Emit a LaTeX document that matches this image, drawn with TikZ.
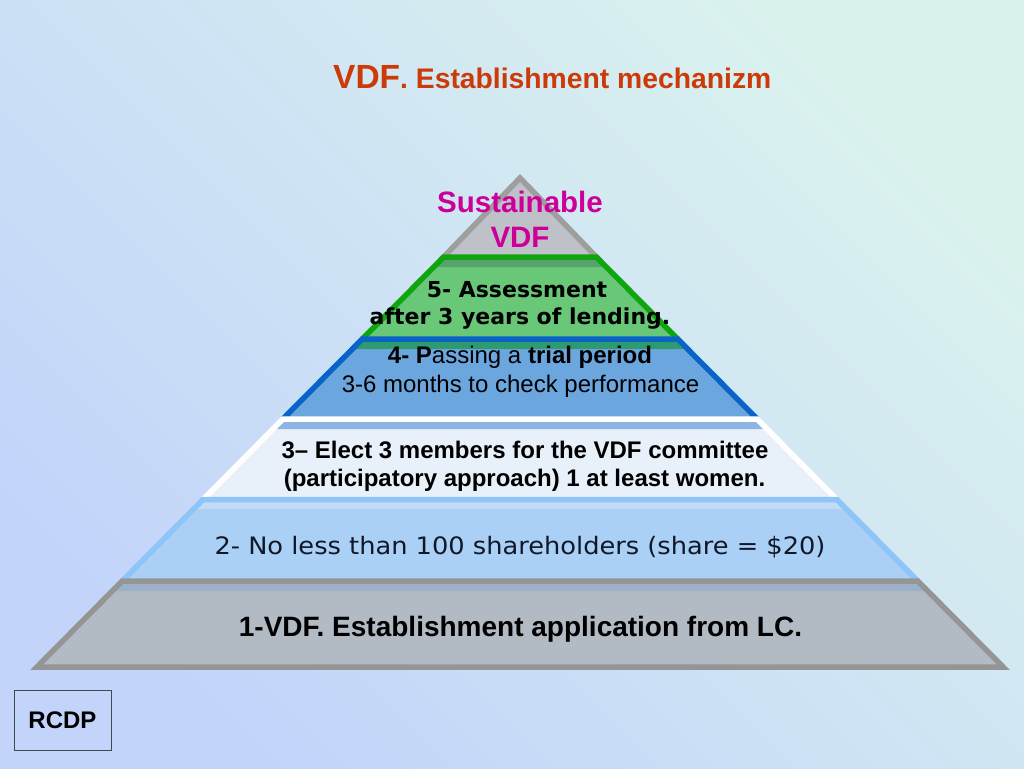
\documentclass[tikz,border=0pt]{standalone}
\usepackage{fontspec}
\newfontfamily\arialx{Liberation Sans}
\newfontfamily\verdx{DejaVu Sans}
\newfontfamily\verdw[FakeStretch=1.07]{DejaVu Sans}
\definecolor{bgBL}{RGB}{194,212,250}
\definecolor{bgTR}{RGB}{218,242,238}
\definecolor{titlec}{RGB}{204,58,10}
\definecolor{magc}{RGB}{204,0,153}
\definecolor{apexfill}{RGB}{190,194,200}
\definecolor{apexline}{RGB}{158,158,158}
\definecolor{grfill}{RGB}{104,200,120}
\definecolor{grline}{RGB}{16,164,16}
\definecolor{grstrip}{RGB}{88,162,108}
\definecolor{blfill}{RGB}{108,166,222}
\definecolor{blline}{RGB}{10,100,200}
\definecolor{blstrip}{RGB}{46,154,112}
\definecolor{whfill}{RGB}{232,240,250}
\definecolor{whstrip}{RGB}{140,180,228}
\definecolor{lbfill}{RGB}{170,208,246}
\definecolor{lbline}{RGB}{142,196,248}
\definecolor{lbstrip}{RGB}{194,220,246}
\definecolor{gyfill}{RGB}{178,186,196}
\definecolor{gyline}{RGB}{149,149,149}
\definecolor{gystrip}{RGB}{156,176,200}
\definecolor{navyc}{RGB}{16,24,40}
\begin{document}
\begin{tikzpicture}[x=1pt,y=-1pt,
  edge/.style={line width=5.5pt},
  txt/.style={inner sep=0pt, anchor=base},
  arialtxt/.style={txt, font=\arialx},
  verdtxt/.style={txt, font=\verdx}]
\useasboundingbox (0,0) rectangle (1024,768);
\shade[bottom color=bgBL, top color=bgTR, shading angle=-45] (0,0) rectangle (1024,768);

% apex triangle
\fill[apexfill] (520,178) -- (596.4,257) -- (443.6,257) -- cycle;
\draw[edge, apexline] (443.6,257) -- (520,178) -- (596.4,257);

% layer 5 (green)
\fill[grfill] (443.6,257) -- (596.4,257) -- (677.7,339) -- (362.3,339) -- cycle;
\fill[grstrip] (443.6,257) -- (596.4,257) -- (606.3,267) -- (433.7,267) -- cycle;
\draw[edge, grline] (362.3,339) -- (443.6,257) -- (596.4,257) -- (677.7,339);

% layer 4 (blue)
\fill[blfill] (362.3,339) -- (677.7,339) -- (757.1,419) -- (282.9,419) -- cycle;
\fill[blstrip] (362.3,339) -- (677.7,339) -- (687.6,349) -- (352.4,349) -- cycle;
\draw[edge, blline] (282.9,419) -- (362.3,339) -- (677.7,339) -- (757.1,419);

% layer 3 (white)
\fill[whfill] (282.9,419) -- (757.1,419) -- (836.9,499.5) -- (203.1,499.5) -- cycle;
\fill[whstrip] (282.9,419) -- (757.1,419) -- (767,429) -- (273,429) -- cycle;
\draw[edge, white] (203.1,499.5) -- (282.9,419) -- (757.1,419) -- (836.9,499.5);

% layer 2 (light blue)
\fill[lbfill] (203.1,499.5) -- (836.9,499.5) -- (917.8,581) -- (122.2,581) -- cycle;
\fill[lbstrip] (203.1,499.5) -- (836.9,499.5) -- (846.4,509) -- (193.6,509) -- cycle;
\draw[edge, lbline] (122.2,581) -- (203.1,499.5) -- (836.9,499.5) -- (917.8,581);

% layer 1 (gray)
\fill[gyfill] (122.2,581) -- (917.8,581) -- (1003.1,667) -- (36.9,667) -- cycle;
\fill[gystrip] (122.2,581) -- (917.8,581) -- (927.7,591) -- (112.3,591) -- cycle;
\draw[edge, gyline] (122.2,581) -- (917.8,581) -- (1003.1,667) -- (36.9,667) -- cycle;

% title
\node[arialtxt, anchor=base west, text=titlec, font=\arialx\bfseries] (title) at (333,88)
  {\fontsize{33.5}{38}\selectfont VDF\fontsize{28.3}{32}\selectfont. Establishment mechanizm};

% apex text
\node[arialtxt, text=magc, font=\arialx\bfseries\fontsize{29.5}{34}\selectfont] (sus1) at (520,212) {Sustainable};
\node[arialtxt, text=magc, font=\arialx\bfseries\fontsize{29.5}{34}\selectfont] (sus2) at (520,247) {VDF};

% layer 5 text
\node[verdtxt, font=\verdx\bfseries\fontsize{22}{26}\selectfont] (l5a) at (517,297) {5- Assessment};
\node[verdtxt, font=\verdx\bfseries\fontsize{22}{26}\selectfont] (l5b) at (520,324) {after 3 years of lending.};

% layer 4 text
\node[arialtxt, font=\arialx\fontsize{24}{28}\selectfont] (l4a) at (520,363) {\textbf{4- P}assing a \textbf{trial period}};
\node[arialtxt, font=\arialx\fontsize{24}{28}\selectfont] (l4b) at (520.5,392) {3-6 months to check performance};

% layer 3 text
\node[arialtxt, font=\arialx\bfseries\fontsize{24}{28}\selectfont] (l3a) at (525,458) {3– Elect 3 members for the VDF committee};
\node[arialtxt, font=\arialx\bfseries\fontsize{24}{28}\selectfont] (l3b) at (524.5,486) {(participatory approach) 1 at least women.};

% layer 2 text
\node[txt, text=navyc, font=\verdw\fontsize{24}{28}\selectfont] (l2) at (520,554) {2- No less than 100 shareholders (share = \$20)};

% layer 1 text
\node[arialtxt, font=\arialx\bfseries\fontsize{28}{32}\selectfont] (l1) at (520.5,636) {1-VDF. Establishment application from LC.};

% RCDP box
\node[draw=navyc!80, line width=1pt, minimum width=97pt, minimum height=60pt, inner sep=0pt,
      font=\arialx\bfseries\fontsize{24}{28}\selectfont] (rcdp) at (62.5,720) {RCDP};
\end{tikzpicture}
\end{document}
